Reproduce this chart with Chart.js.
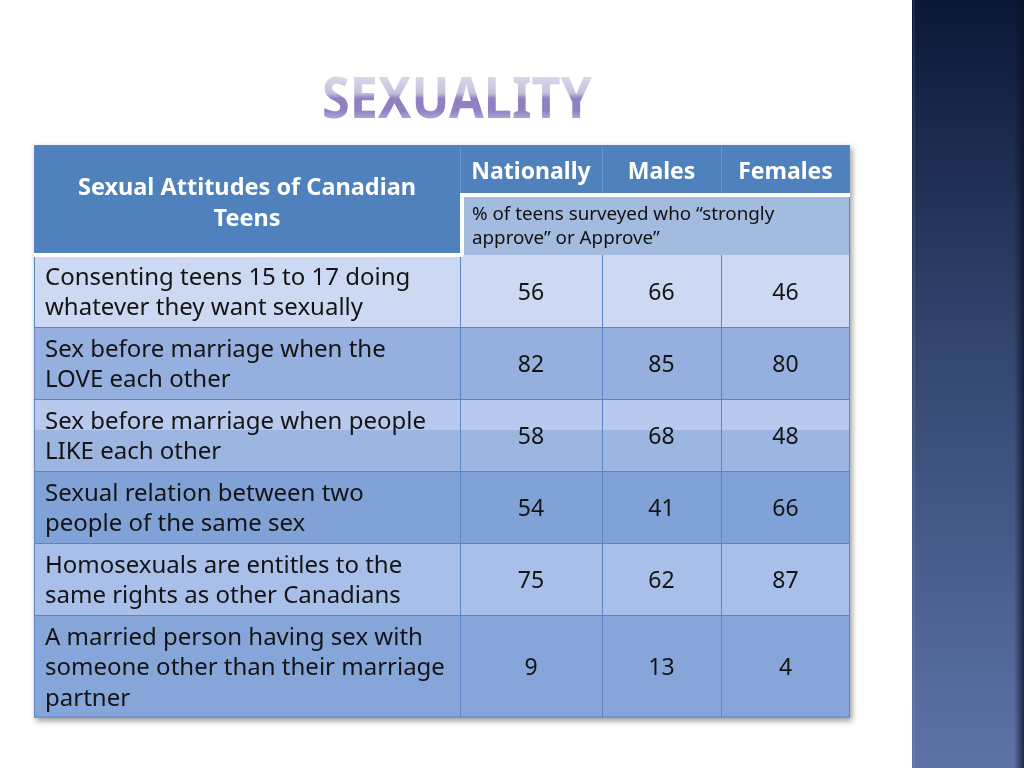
<!DOCTYPE html>
<html><head><meta charset="utf-8">
<script src="https://cdn.jsdelivr.net/npm/chart.js@4.4.1/dist/chart.umd.min.js"></script>
<style>
html,body{margin:0;padding:0;background:#fff;}
#wrap{width:1024px;height:768px;position:relative;overflow:hidden;}
canvas{display:block;}
</style>
</head><body>
<div id="wrap"><canvas id="c" width="1024" height="768"></canvas></div>
<script>
// ---------- DATA ----------
const titleText = 'SEXUALITY';
const cornerHeader = ['Sexual Attitudes of Canadian', 'Teens'];
const columns = ['Nationally', 'Males', 'Females'];
const subHeader = ['% of teens surveyed who \u201Cstrongly', 'approve\u201D or Approve\u201D'];
const categories = [
  ['Consenting teens 15 to 17 doing', 'whatever they want sexually'],
  ['Sex before marriage when the', 'LOVE each other'],
  ['Sex before marriage when people', 'LIKE each other'],
  ['Sexual relation between two', 'people of the same sex'],
  ['Homosexuals are entitles to the', 'same rights as other Canadians'],
  ['A married person having sex with', 'someone other than their marriage', 'partner']
];
const nationally = [56, 82, 58, 54, 75, 9];
const males      = [66, 85, 68, 41, 62, 13];
const females    = [46, 80, 48, 66, 87, 4];

// ---------- LAYOUT / STYLE ----------
const COL_W = [426, 142, 119, 129];
const HEAD1 = 50, HEAD2 = 60, LINE_H = 30.5, ROW_PAD = 11;
const colEdges = COL_W.reduce((a, w) => { a.push(a[a.length - 1] + w); return a; }, [0]);
const rowHeights = categories.map(l => l.length * LINE_H + ROW_PAD);
const bodyTop = HEAD1 + HEAD2;
const rowEdges = rowHeights.reduce((a, h) => { a.push(a[a.length - 1] + h); return a; }, [bodyTop]);
const tableW = colEdges[colEdges.length - 1];
const tableH = rowEdges[rowEdges.length - 1];
const GLOSS = 285;
const fillAbove = ['#cdd9f2', '#95b0de', '#b7c9ec', '#80a2d6', '#a8bfea', '#86a5d9'];
const fillBelow = ['#cdd9f2', '#95b0de', '#9cb5e1', '#80a2d6', '#a8bfea', '#86a5d9'];
const HEADER_BLUE = '#4f81bd';
const SUB_FILL = '#a4bbe0';
const GRID = '#5a86c6';
const FONT = '"Noto Sans", "DejaVu Sans", sans-serif';

const valueSeries = [nationally, males, females];
const colCenter = c => (colEdges[c + 1] + colEdges[c + 2]) / 2;
const rowCenter = r => (rowEdges[r] + rowEdges[r + 1]) / 2;

const tablePlugin = {
  id: 'tablePlugin',
  beforeDraw(chart) {
    const ctx = chart.ctx;
    ctx.save();
    ctx.fillStyle = '#ffffff';
    ctx.fillRect(0, 0, 1024, 768);
    // right decorative strip
    const g = ctx.createLinearGradient(0, 0, 0, 768);
    g.addColorStop(0, '#0b1737');
    g.addColorStop(0.45, '#33466f');
    g.addColorStop(1, '#5d73a8');
    ctx.fillStyle = g;
    ctx.fillRect(912, 0, 112, 768);
    const e = ctx.createLinearGradient(1014, 0, 1024, 0);
    e.addColorStop(0, 'rgba(10,16,35,0)');
    e.addColorStop(1, 'rgba(10,16,35,0.75)');
    ctx.fillStyle = e;
    ctx.fillRect(1014, 0, 10, 768);
    ctx.fillStyle = 'rgba(255,255,255,0.08)';
    ctx.fillRect(913, 0, 2, 768);
    // title
    ctx.font = 'bold 57px ' + FONT;
    ctx.textBaseline = 'alphabetic';
    ctx.textAlign = 'left';
    const w = ctx.measureText(titleText).width;
    const targetW = 270, sx = targetW / w;
    const tg = ctx.createLinearGradient(0, -42, 0, 1);
    tg.addColorStop(0, '#dcd8e8');
    tg.addColorStop(0.40, '#c6bfdc');
    tg.addColorStop(0.52, '#9181c3');
    tg.addColorStop(0.8, '#8f80c2');
    tg.addColorStop(1, '#b1a7d6');
    ctx.translate(457 - targetW / 2, 118);
    ctx.scale(sx, 1);
    ctx.fillStyle = tg;
    ctx.fillText(titleText, 0, 0);
    ctx.restore();
  },
  beforeDatasetsDraw(chart) {
    const ctx = chart.ctx;
    const xs = chart.scales.x, ys = chart.scales.y;
    const X = v => xs.getPixelForValue(v);
    const Y = v => ys.getPixelForValue(v);
    ctx.save();
    // shadow
    ctx.save();
    ctx.shadowColor = 'rgba(0,0,0,0.4)';
    ctx.shadowBlur = 6;
    ctx.shadowOffsetX = 2;
    ctx.shadowOffsetY = 3;
    ctx.fillStyle = '#86a5d9';
    ctx.fillRect(X(0), Y(0), X(tableW) - X(0), Y(tableH) - Y(0));
    ctx.restore();
    // header
    ctx.fillStyle = HEADER_BLUE;
    ctx.fillRect(X(0), Y(0), X(colEdges[1]) - X(0), Y(bodyTop) - Y(0));
    ctx.fillRect(X(colEdges[1]), Y(0), X(tableW) - X(colEdges[1]), Y(HEAD1) - Y(0));
    ctx.fillStyle = SUB_FILL;
    ctx.fillRect(X(colEdges[1]), Y(HEAD1), X(tableW) - X(colEdges[1]), Y(bodyTop) - Y(HEAD1));
    // body rows
    categories.forEach((lines, r) => {
      const y0 = rowEdges[r], y1 = rowEdges[r + 1];
      ctx.fillStyle = fillBelow[r];
      ctx.fillRect(X(0), Y(y0), X(tableW) - X(0), Y(y1) - Y(y0));
      const ya = Math.min(y1, GLOSS);
      if (ya > y0) {
        ctx.fillStyle = fillAbove[r];
        ctx.fillRect(X(0), Y(y0), X(tableW) - X(0), Y(ya) - Y(y0));
      }
    });
    // grid lines
    ctx.strokeStyle = GRID;
    ctx.lineWidth = 1;
    ctx.beginPath();
    for (let r = 1; r < rowEdges.length - 1; r++) {
      const y = Math.round(Y(rowEdges[r])) + 0.5;
      ctx.moveTo(X(0), y); ctx.lineTo(X(tableW), y);
    }
    for (let c = 1; c < colEdges.length - 1; c++) {
      const x = Math.round(X(colEdges[c])) + 0.5;
      ctx.moveTo(x, Y(bodyTop)); ctx.lineTo(x, Y(tableH));
    }
    ctx.stroke();
    ctx.strokeStyle = '#6a93cf';
    ctx.beginPath();
    for (let c = 1; c < colEdges.length - 1; c++) {
      const x = Math.round(X(colEdges[c])) + 0.5;
      ctx.moveTo(x, Y(0)); ctx.lineTo(x, Y(HEAD1));
    }
    ctx.stroke();
    // outer border
    ctx.strokeStyle = GRID;
    ctx.strokeRect(Math.round(X(0)) + 0.5, Math.round(Y(0)) + 0.5, X(tableW) - X(0) - 1, Y(tableH) - Y(0) - 1);
    // white separators
    ctx.fillStyle = '#ffffff';
    ctx.fillRect(X(0), Y(bodyTop) - 2, X(colEdges[1]) - X(0) + 3, 4);
    ctx.fillRect(X(colEdges[1]), Y(HEAD1) - 2, X(tableW) - X(colEdges[1]), 4);
    ctx.fillRect(X(colEdges[1]), Y(HEAD1) - 2, 4, Y(bodyTop) - Y(HEAD1) + 2);

    // header texts
    ctx.textBaseline = 'middle';
    ctx.textAlign = 'center';
    ctx.fillStyle = '#ffffff';
    ctx.font = 'bold 23.5px ' + FONT;
    const cx0 = X(colEdges[1] / 2);
    cornerHeader.forEach((t, i) => ctx.fillText(t, cx0, Y(43 + i * 31)));
    ctx.font = 'bold 23px ' + FONT;
    columns.forEach((t, c) => ctx.fillText(t, X(colCenter(c)), Y(HEAD1 / 2 + 2)));
    ctx.textAlign = 'left';
    ctx.fillStyle = '#111111';
    ctx.font = '18.8px ' + FONT;
    subHeader.forEach((t, i) => ctx.fillText(t, X(colEdges[1] + 12), Y(HEAD1 + 20 + i * 24)));
    // row labels
    ctx.font = '24px ' + FONT;
    ctx.fillStyle = '#141414';
    categories.forEach((lines, r) => {
      lines.forEach((t, i) => ctx.fillText(t, X(11), Y(rowEdges[r] + 23 + i * LINE_H)));
    });
    ctx.restore();
  },
  afterDatasetsDraw(chart) {
    const ctx = chart.ctx;
    ctx.save();
    ctx.font = '23px ' + FONT;
    ctx.fillStyle = '#141414';
    ctx.textAlign = 'center';
    ctx.textBaseline = 'middle';
    chart.data.datasets.forEach((ds, i) => {
      const meta = chart.getDatasetMeta(i);
      meta.data.forEach((el, j) => {
        ctx.fillText(String(ds.data[j].v), el.x, el.y + 2);
      });
    });
    ctx.restore();
  }
};

const datasets = columns.map((name, c) => ({
  label: name,
  data: valueSeries[c].map((v, r) => ({ x: colCenter(c), y: rowCenter(r), v: v })),
  pointRadius: 0,
  pointHoverRadius: 0,
  showLine: false
}));

new Chart(document.getElementById('c'), {
  type: 'scatter',
  data: { datasets },
  options: {
    responsive: false,
    animation: false,
    events: [],
    layout: { padding: { left: 34, top: 145, right: 174, bottom: 768 - 145 - tableH } },
    plugins: { legend: { display: false }, tooltip: { enabled: false }, title: { display: false } },
    scales: {
      x: { type: 'linear', min: 0, max: tableW, display: false },
      y: { type: 'linear', min: 0, max: tableH, reverse: true, display: false }
    }
  },
  plugins: [tablePlugin]
});
</script>
</body></html>
